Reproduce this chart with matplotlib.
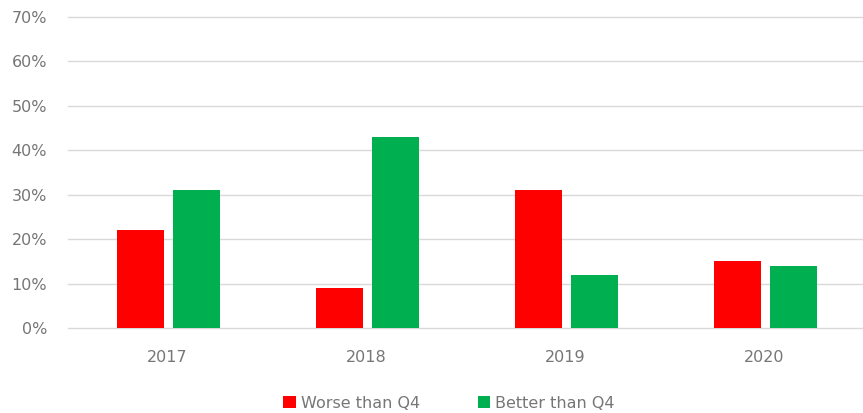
import matplotlib.pyplot as plt
import numpy as np

years = ["2017", "2018", "2019", "2020"]
worse = [0.22, 0.09, 0.31, 0.15]
better = [0.31, 0.43, 0.12, 0.14]
series_names = ["Worse than Q4", "Better than Q4"]

fig = plt.figure(figsize=(8.63, 4.13), dpi=100)
ax = fig.add_axes([68 / 863, (413 - 328) / 413, (864 - 68) / 863, (328 - 17) / 413])

x = np.arange(len(years))
w = 0.235
ax.bar(x - 0.1375, worse, width=w, color="#FF0000", label=series_names[0], zorder=3)
ax.bar(x + 0.145, better, width=w, color="#00B050", label=series_names[1], zorder=3)

ax.set_xlim(-0.5, 3.5)
ax.set_ylim(0, 0.7)
ticks = np.arange(0, 0.71, 0.1)
ax.set_yticks(ticks)
ax.set_yticklabels([f"{int(round(v * 100))}%" for v in ticks])
ax.set_xticks(x)
ax.set_xticklabels(years)
for t in ticks:
    ax.axhline(t, color="#d9d9d9", linewidth=1, zorder=0, clip_on=False)
for s in ax.spines.values():
    s.set_visible(False)
ax.tick_params(axis="both", length=0, colors="#767676", labelsize=11.5)
ax.tick_params(axis="y", pad=15)
ax.tick_params(axis="x", pad=16)

fig.legend(loc="center", bbox_to_anchor=(449 / 863, 1 - 403 / 413), ncol=2, frameon=False,
           fontsize=11.5, handlelength=0.8, handleheight=0.8, handletextpad=0.3,
           columnspacing=3.6, labelcolor="#767676")

fig.savefig("out.png", dpi=100)
